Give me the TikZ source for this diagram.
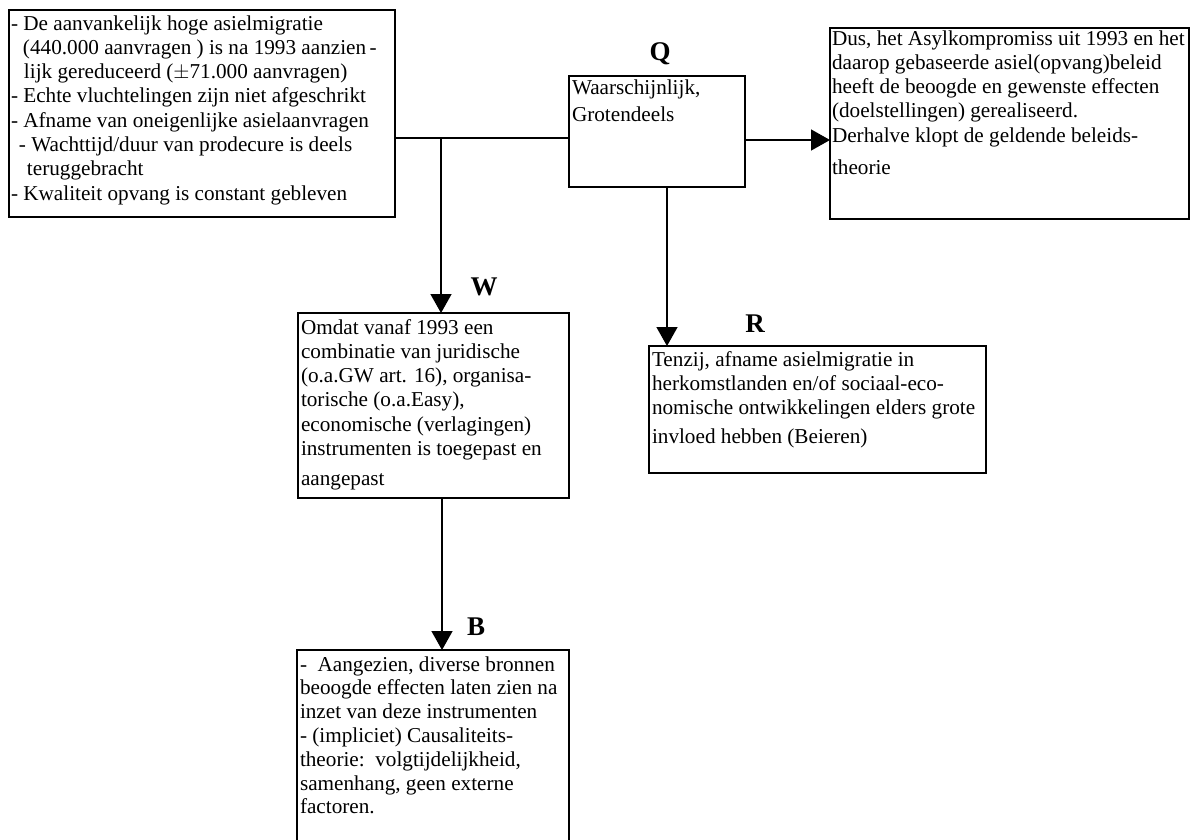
\documentclass[tikz,border=0pt]{standalone}
\usepackage{fontspec}
\setmainfont{Liberation Serif}
\usetikzlibrary{arrows.meta}
\AtBeginDocument{\lineskiplimit=-100pt \lineskip=0pt }
\begin{document}
\begin{tikzpicture}[x=1pt,y=-1pt,
  box/.style={draw, line width=1.5pt, inner sep=0pt, outer sep=0pt, anchor=north west},
  txt/.style={inner sep=0pt, outer sep=0pt, anchor=north west, align=left},
  fs/.style={font=\fontsize{21.2}{#1}\selectfont},
  lbl/.style={inner sep=0pt, anchor=base, font=\fontsize{27}{30}\selectfont\bfseries},
  arr/.style={line width=1.5pt, -{Triangle[length=19pt,width=21pt]}},
  con/.style={line width=1.5pt}]
\useasboundingbox (0,0) rectangle (1191,839);
\clip (0,0) rectangle (1191,839);
% boxes
\node[box, minimum width=386pt, minimum height=207pt] (D) at (9,10) {};
\node[box, minimum width=176pt, minimum height=111pt] (Q) at (569,76) {};
\node[box, minimum width=359pt, minimum height=191pt] (C) at (830,28) {};
\node[box, minimum width=271pt, minimum height=185pt] (W) at (298,313) {};
\node[box, minimum width=337pt, minimum height=127pt] (R) at (649,346) {};
\node[box, minimum width=272pt, minimum height=230pt] (B) at (297,650) {};
% texts
\node[txt, fs=24.3] (Dt) at (11,14) {\rule{0pt}{16pt}- De aanvankelijk hoge asielmigratie\\
\hspace*{12pt}(440.000 aanvragen ) is na 1993 aanzien\,-\\
\hspace*{13pt}lijk gereduceerd ($\pm$71.000 aanvragen)\\
- Echte vluchtelingen zijn niet afgeschrikt\\
- Afname van oneigenlijke asielaanvragen\\
\hspace*{8pt}- Wachttijd/duur van prodecure is deels\\
\hspace*{16pt}teruggebracht\\
- Kwaliteit opvang is constant gebleven};
\node[txt, fs=27] (Qt) at (572,78) {\rule{0pt}{16pt}Waarschijnlijk,\\ Grotendeels};
\node[txt, fs=24.3] (Ct) at (832,29) {\rule{0pt}{16pt}Dus, het Asylkompromiss uit 1993 en het\\
daarop gebaseerde asiel(opvang)beleid\\
heeft de beoogde en gewenste effecten\\
(doelstellingen) gerealiseerd.\\
Derhalve klopt de geldende beleids-\\[7.7pt]
theorie};
\node[txt, fs=24.3] (Wt) at (301,318) {\rule{0pt}{16pt}Omdat vanaf 1993 een\\
combinatie van juridische\\
(o.a.GW art. 16), organisa-\\
torische (o.a.Easy),\\
economische (verlagingen)\\
instrumenten is toegepast en\\[5.7pt]
aangepast};
\node[txt, fs=24] (Rt) at (652,350) {\rule{0pt}{16pt}Tenzij, afname asielmigratie in\\
herkomstlanden en/of sociaal-eco-\\
nomische ontwikkelingen elders grote\\[5pt]
invloed hebben (Beieren)};
\node[txt, fs=23.8] (Bt) at (300,655) {\rule{0pt}{16pt}-\ \ Aangezien, diverse bronnen\\
beoogde effecten laten zien na\\
inzet van deze instrumenten\\
- (impliciet) Causaliteits-\\
theorie:\ \ volgtijdelijkheid,\\
samenhang, geen externe\\
factoren.};
% labels
\node[lbl] (lq) at (660,60) {Q};
\node[lbl] (lw) at (484,295) {W};
\node[lbl] (lr) at (755,332) {R};
\node[lbl] (lb) at (476,635) {B};
% connectors
\coordinate (j1) at (441,138);
\coordinate (j2) at (745,140);
\coordinate (j3) at (667,187);
\coordinate (j4) at (442,498);
\draw[con] (D.east |- j1) -- (Q.west |- j1);
\draw[arr] (j1) -- (j1 |- W.north);
\draw[arr] (j2) -- (j2 -| C.west);
\draw[arr] (j3) -- (j3 |- R.north);
\draw[arr] (j4) -- (j4 |- B.north);
\end{tikzpicture}
\end{document}
